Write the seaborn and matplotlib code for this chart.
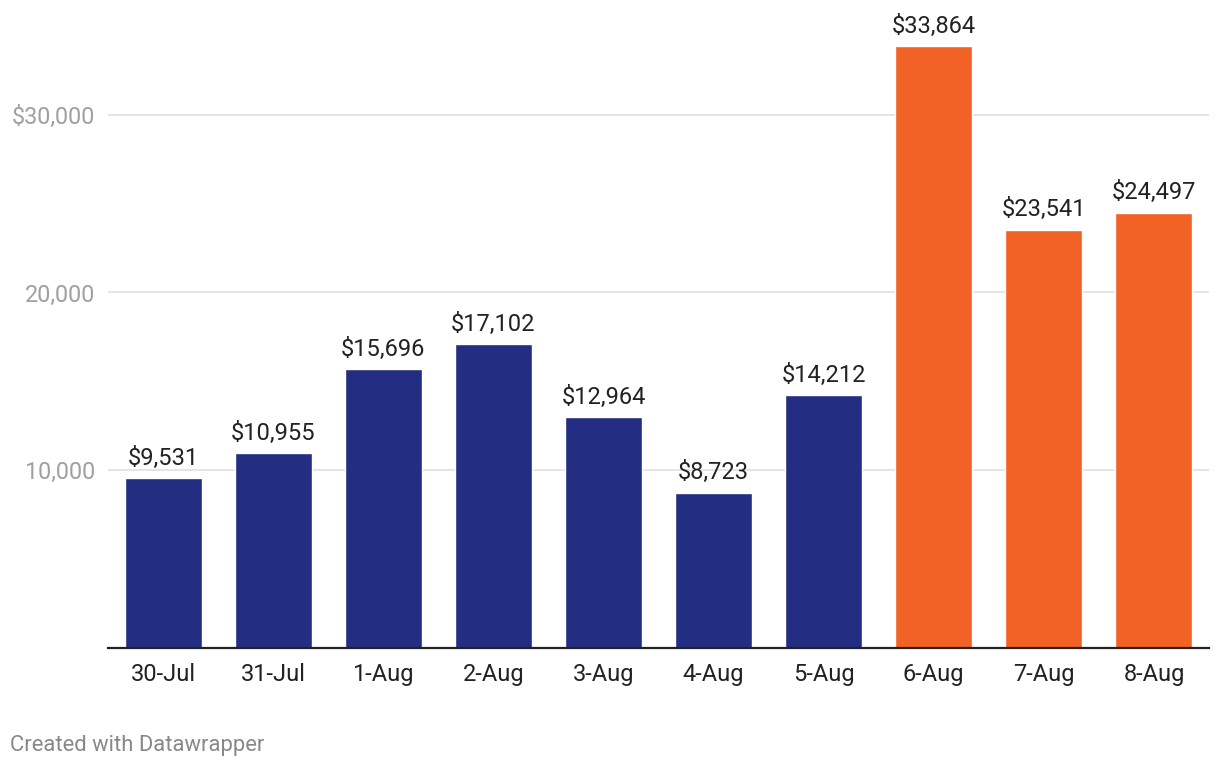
import matplotlib
matplotlib.use("Agg")
import matplotlib.pyplot as plt
import seaborn as sns
import pandas as pd

# dados do grafico
dias = ["30-Jul", "31-Jul", "1-Aug", "2-Aug", "3-Aug", "4-Aug", "5-Aug", "6-Aug", "7-Aug", "8-Aug"]
vendas = [9531, 10955, 15696, 17102, 12964, 8723, 14212, 33864, 23541, 24497]
grupo = ["antes"] * 7 + ["depois"] * 3
ticks_y = [10000, 20000, 30000]
ticks_y_txt = ["10,000", "20,000", "$30,000"]

df = pd.DataFrame({"Dia": dias, "Vendas": vendas, "Grupo": grupo})

sns.set_style("white")
plt.rcParams["font.family"] = ["Roboto", "DejaVu Sans"]

fig = plt.figure(figsize=(12.2, 7.68), dpi=100)
ax = fig.add_axes([108 / 1220, 1 - 647.5 / 768, 1101 / 1220, 639 / 768])

sns.barplot(data=df, x="Dia", y="Vendas", hue="Grupo",
            palette={"antes": "#232d82", "depois": "#f26125"},
            width=0.7, dodge=False, legend=False, ax=ax, saturation=1)

ax.set_xlim(-0.5, 9.5)
ax.set_ylim(0, 36000)
ax.set_yticks(ticks_y)
ax.set_yticklabels(ticks_y_txt, color="#a0a0a0", fontsize=16.8)
ax.tick_params(axis="y", length=0, pad=9)
ax.tick_params(axis="x", length=0, pad=11, labelsize=17, labelcolor="#222222")
ax.grid(axis="y", color="#e3e3e3", linewidth=1.3)
ax.set_axisbelow(True)
for s in ["top", "right", "left"]:
    ax.spines[s].set_visible(False)
ax.spines["bottom"].set_color("#222222")
ax.spines["bottom"].set_linewidth(1.6)
ax.set_xlabel("")
ax.set_ylabel("")

# rotulos em cima das barras
for i, v in enumerate(vendas):
    ax.annotate(f"${v:,}", (i, v), xytext=(0, 6), textcoords="offset points",
                ha="center", va="bottom", fontsize=17, color="#222222")

fig.text(10 / 1220, 1 - 745 / 768, "Created with Datawrapper", fontsize=15.8,
         color="#888888", va="center", ha="left")

fig.savefig("out.png", dpi=100)
